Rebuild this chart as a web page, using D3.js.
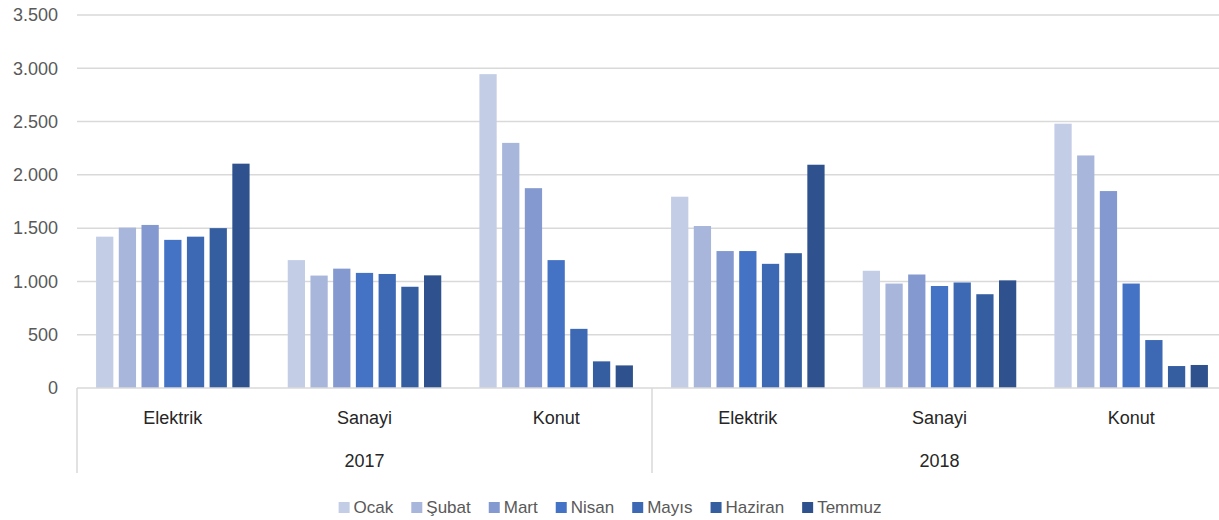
<!DOCTYPE html>
<html>
  <head>
    <meta charset="UTF-8" />
    <script src="https://d3js.org/d3.v7.min.js"></script>
    <style>
      body { margin: 0; background: #fff; }
      text { font-family: "Liberation Sans", Arial, sans-serif; }
    </style>
  </head>
  <body>
    <div id="chart"></div>

    <script>
      // data
      var years = ["2017", "2018"];
      var sectors = ["Elektrik", "Sanayi", "Konut"];
      var months = ["Ocak", "Şubat", "Mart", "Nisan", "Mayıs", "Haziran", "Temmuz"];
      var colors = ["#c3cde6", "#a8b6db", "#8399cf", "#4472c4", "#3d69b4", "#355ea0", "#2f518d"];

      // one value per sector/year: Elektrik, Sanayi, Konut (2017), then 2018
      var ocak = [1420, 1200, 2945, 1795, 1100, 2480];
      var subat = [1505, 1055, 2300, 1520, 980, 2182];
      var mart = [1530, 1120, 1875, 1285, 1065, 1848];
      var nisan = [1390, 1080, 1200, 1285, 957, 980];
      var mayis = [1420, 1070, 555, 1165, 990, 450];
      var haziran = [1500, 950, 250, 1265, 880, 206];
      var temmuz = [2105, 1057, 212, 2095, 1010, 216];
      var series = [ocak, subat, mart, nisan, mayis, haziran, temmuz];

      var yTicks = [0, 500, 1000, 1500, 2000, 2500, 3000, 3500];

      var width = 1219,
        height = 520;
      var plot = { left: 77, right: 1227, top: 15, bottom: 388 };

      var svg = d3
        .select("#chart")
        .append("svg")
        .attr("width", width)
        .attr("height", height);

      // build the groups (year + sector)
      var groups = [];
      years.forEach(function (y) {
        sectors.forEach(function (s) {
          groups.push({ key: y + "-" + s, year: y, sector: s });
        });
      });

      var x0 = d3
        .scaleBand()
        .domain(groups.map((d) => d.key))
        .range([plot.left, plot.right]);

      var x1 = d3
        .scaleBand()
        .domain(months)
        .range([0, x0.bandwidth()])
        .paddingInner(0.24)
        .paddingOuter(0.84);

      var yScale = d3
        .scaleLinear()
        .domain([0, 3500])
        .range([plot.bottom, plot.top]);

      var tr = d3.formatLocale({ decimal: ",", thousands: ".", grouping: [3], currency: ["", ""] });
      var fmt = tr.format(",");

      // gridlines
      svg
        .append("g")
        .selectAll("line")
        .data(yTicks.slice(1))
        .join("line")
        .attr("x1", plot.left)
        .attr("x2", plot.right)
        .attr("y1", (d) => yScale(d))
        .attr("y2", (d) => yScale(d))
        .attr("stroke", "#d9d9d9")
        .attr("stroke-width", 1.5);

      // y axis labels
      var yAxis = svg
        .append("g")
        .attr("transform", "translate(" + (plot.left - 19) + ",0)")
        .call(d3.axisLeft(yScale).tickValues(yTicks).tickFormat(fmt).tickSize(0).tickPadding(0));
      yAxis.select(".domain").remove();
      yAxis
        .selectAll("text")
        .attr("font-size", 18)
        .attr("fill", "#595959")
        .style("font-family", "Liberation Sans, Arial, sans-serif");

      // bars
      var bars = svg.append("g");
      groups.forEach(function (g, gi) {
        bars
          .append("g")
          .attr("transform", "translate(" + x0(g.key) + ",0)")
          .selectAll("rect")
          .data(months.map((m, mi) => ({ month: m, value: series[mi][gi], color: colors[mi] })))
          .join("rect")
          .attr("x", (d) => x1(d.month))
          .attr("width", x1.bandwidth())
          .attr("y", (d) => yScale(d.value))
          .attr("height", (d) => yScale(0) - yScale(d.value))
          .attr("fill", (d) => d.color);
      });

      // x axis: baseline + separators
      var axisColor = "#d9d9d9";
      var axisBottom = 473;
      svg
        .append("line")
        .attr("x1", plot.left)
        .attr("x2", plot.right)
        .attr("y1", plot.bottom)
        .attr("y2", plot.bottom)
        .attr("stroke", axisColor)
        .attr("stroke-width", 1.5);

      var yearStarts = years.map((y) => x0(y + "-" + sectors[0]));
      yearStarts.push(plot.right);
      svg
        .append("g")
        .selectAll("line")
        .data(yearStarts)
        .join("line")
        .attr("x1", (d) => d)
        .attr("x2", (d) => d)
        .attr("y1", plot.bottom)
        .attr("y2", axisBottom)
        .attr("stroke", axisColor)
        .attr("stroke-width", 1.5);

      // sector labels
      svg
        .append("g")
        .selectAll("text")
        .data(groups)
        .join("text")
        .attr("x", (d) => x0(d.key) + x0.bandwidth() / 2)
        .attr("y", 424)
        .attr("text-anchor", "middle")
        .attr("font-size", 18)
        .attr("fill", "#262626")
        .text((d) => d.sector);

      // year labels
      svg
        .append("g")
        .selectAll("text")
        .data(years)
        .join("text")
        .attr("x", (d) => x0(d + "-" + sectors[1]) + x0.bandwidth() / 2)
        .attr("y", 467)
        .attr("text-anchor", "middle")
        .attr("font-size", 18)
        .attr("fill", "#262626")
        .text((d) => d);

      // legend
      var legend = svg.append("g");
      var items = legend
        .selectAll("g")
        .data(months)
        .join("g");
      items
        .append("rect")
        .attr("width", 11)
        .attr("height", 11)
        .attr("y", -11)
        .attr("fill", (d, i) => colors[i]);
      items
        .append("text")
        .attr("x", 15)
        .attr("y", 0)
        .attr("font-size", 17)
        .attr("fill", "#595959")
        .text((d) => d);

      var gap = 18;
      var pos = 0;
      items.each(function () {
        var w = this.querySelector("text").getComputedTextLength();
        d3.select(this).attr("transform", "translate(" + pos + ",0)");
        pos += 15 + w + gap;
      });
      pos -= gap;
      legend.attr("transform", "translate(" + (610 - pos / 2) + ",513)");
    </script>
  </body>
</html>
